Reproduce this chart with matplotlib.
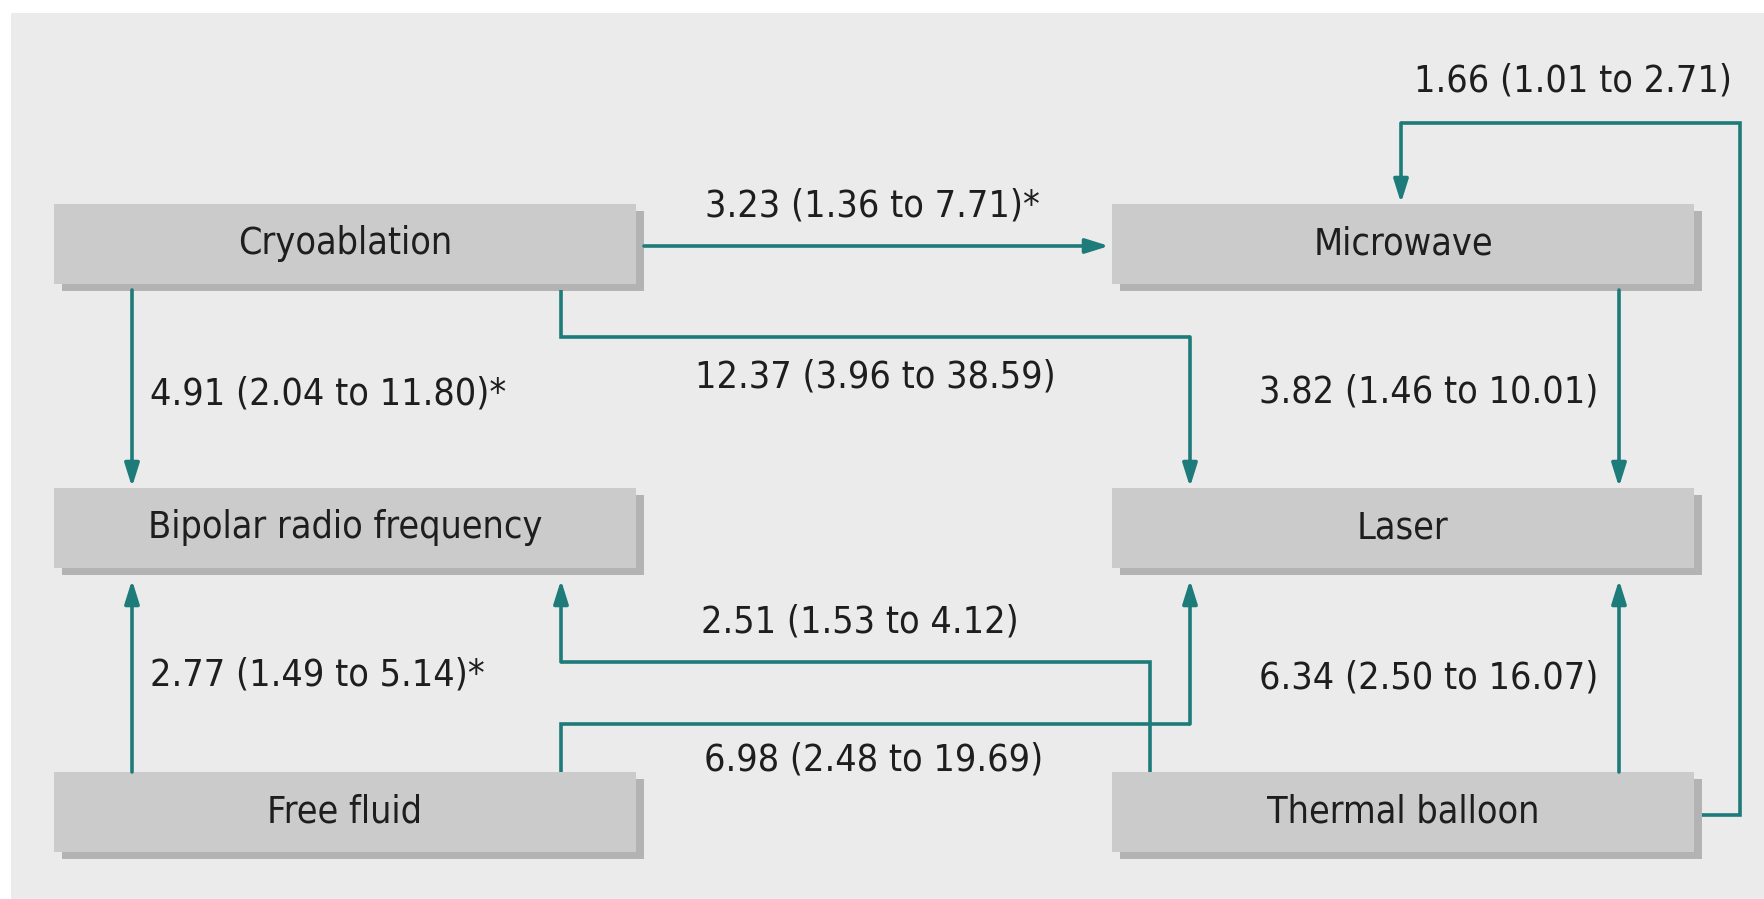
import matplotlib
matplotlib.use("Agg")
import matplotlib.pyplot as plt
from matplotlib import font_manager as fm
from matplotlib.patches import Rectangle

# Treatments (nodes) and pairwise odds ratios with 95% CI
NODES = ["Cryoablation", "Microwave", "Bipolar radio frequency",
         "Laser", "Free fluid", "Thermal balloon"]
ESTIMATES = [3.23, 4.91, 12.37, 3.82, 2.77, 2.51, 6.98, 6.34, 1.66]
LOWER = [1.36, 2.04, 3.96, 1.46, 1.49, 1.53, 2.48, 2.50, 1.01]
UPPER = [7.71, 11.80, 38.59, 10.01, 5.14, 4.12, 19.69, 16.07, 2.71]
SIGNIFICANT = [True, True, False, False, True, False, False, False, False]

TEAL = "#1d7b79"
PANEL = "#ebebeb"
BOX_FACE = "#cbcbcb"
BOX_SHADOW = "#b3b3b3"
TEXT = "#1e1e1e"


def pick_font():
    """Prefer a narrow/condensed sans face if one is installed."""
    narrow = []
    for f in fm.fontManager.ttflist:
        n = (f.name + " " + f.fname).lower()
        if ("narrow" in n or "condensed" in n or "cond" in f.stretch) \
                and f.style == "normal" and f.weight in (400, "normal", "regular") \
                and "bold" not in f.fname.lower() and "oblique" not in f.fname.lower() \
                and "italic" not in f.fname.lower():
            narrow.append(f)
    if narrow:
        narrow.sort(key=lambda f: ("dejavu" not in f.fname.lower(), f.fname))
        return fm.FontProperties(fname=narrow[0].fname)
    return fm.FontProperties(family="Liberation Sans")


W, H = 1765, 899
fig = plt.figure(figsize=(W / 100, H / 100), dpi=100)
ax = fig.add_axes([0, 0, 1, 1])
ax.set_xlim(0, W)
ax.set_ylim(H, 0)
ax.axis("off")
fig.patch.set_facecolor("white")

# scale the font so the widest label spans about 360 px
font = pick_font()
renderer = fig.canvas.get_renderer()
probe = ax.text(0, 0, "12.37 (3.96 to 38.59)", fontproperties=font, fontsize=30)
probe_w = probe.get_window_extent(renderer).width
probe.remove()
FS = min(34, 30 * 360 / probe_w)
font.set_size(FS)

ax.add_patch(Rectangle((11, 13), W, H, facecolor=PANEL, edgecolor="none", zorder=0))

# box layout: two columns x three rows
col_x = [54, 1112]
row_y = [204, 488, 772]
box_w, box_h = 582, 80
for i, name in enumerate(NODES):
    x0 = col_x[i % 2]
    y0 = row_y[i // 2]
    ax.add_patch(Rectangle((x0 + 8, y0 + 7), box_w, box_h,
                           facecolor=BOX_SHADOW, edgecolor="none", zorder=1))
    ax.add_patch(Rectangle((x0, y0), box_w, box_h,
                           facecolor=BOX_FACE, edgecolor="none", zorder=2))
    ax.text(x0 + box_w / 2, y0 + box_h / 2, name, ha="center", va="center",
            fontproperties=font, color=TEXT, zorder=3)

# connector routes, one per comparison, last point is the arrow tip
routes = [
    [(644, 246), (1109, 246)],
    [(132, 290), (132, 487)],
    [(561, 290), (561, 337), (1190, 337), (1190, 487)],
    [(1619, 290), (1619, 487)],
    [(132, 772), (132, 580)],
    [(1150, 772), (1150, 662), (561, 662), (561, 580)],
    [(561, 772), (561, 724), (1190, 724), (1190, 580)],
    [(1619, 772), (1619, 580)],
    [(1702, 815), (1740, 815), (1740, 123), (1401, 123), (1401, 203)],
]

# label anchor: (x, y, horizontal alignment)
label_pos = [
    (872, 206, "center"),
    (150, 394, "left"),
    (875, 377, "center"),
    (1429, 392, "center"),
    (150, 675, "left"),
    (860, 622, "center"),
    (874, 760, "center"),
    (1429, 678, "center"),
    (1573, 81, "center"),
]

for pts, est, lo, hi, sig, (lx, ly, ha) in zip(routes, ESTIMATES, LOWER, UPPER,
                                              SIGNIFICANT, label_pos):
    xs = [p[0] for p in pts[:-1]]
    ys = [p[1] for p in pts[:-1]]
    if len(pts) > 2:
        ax.plot(xs, ys, color=TEAL, lw=2.6, solid_joinstyle="miter",
                solid_capstyle="butt", zorder=4)
    ax.annotate("", xy=pts[-1], xytext=pts[-2],
                arrowprops=dict(arrowstyle="-|>,head_length=0.7,head_width=0.22",
                                color=TEAL, lw=2.6, shrinkA=0, shrinkB=0,
                                mutation_scale=20),
                zorder=4)
    label = f"{est:.2f} ({lo:.2f} to {hi:.2f})" + ("*" if sig else "")
    ax.text(lx, ly, label, ha=ha, va="center", fontproperties=font,
            color=TEXT, zorder=5)

fig.savefig("out.png", dpi=100, facecolor="white")
